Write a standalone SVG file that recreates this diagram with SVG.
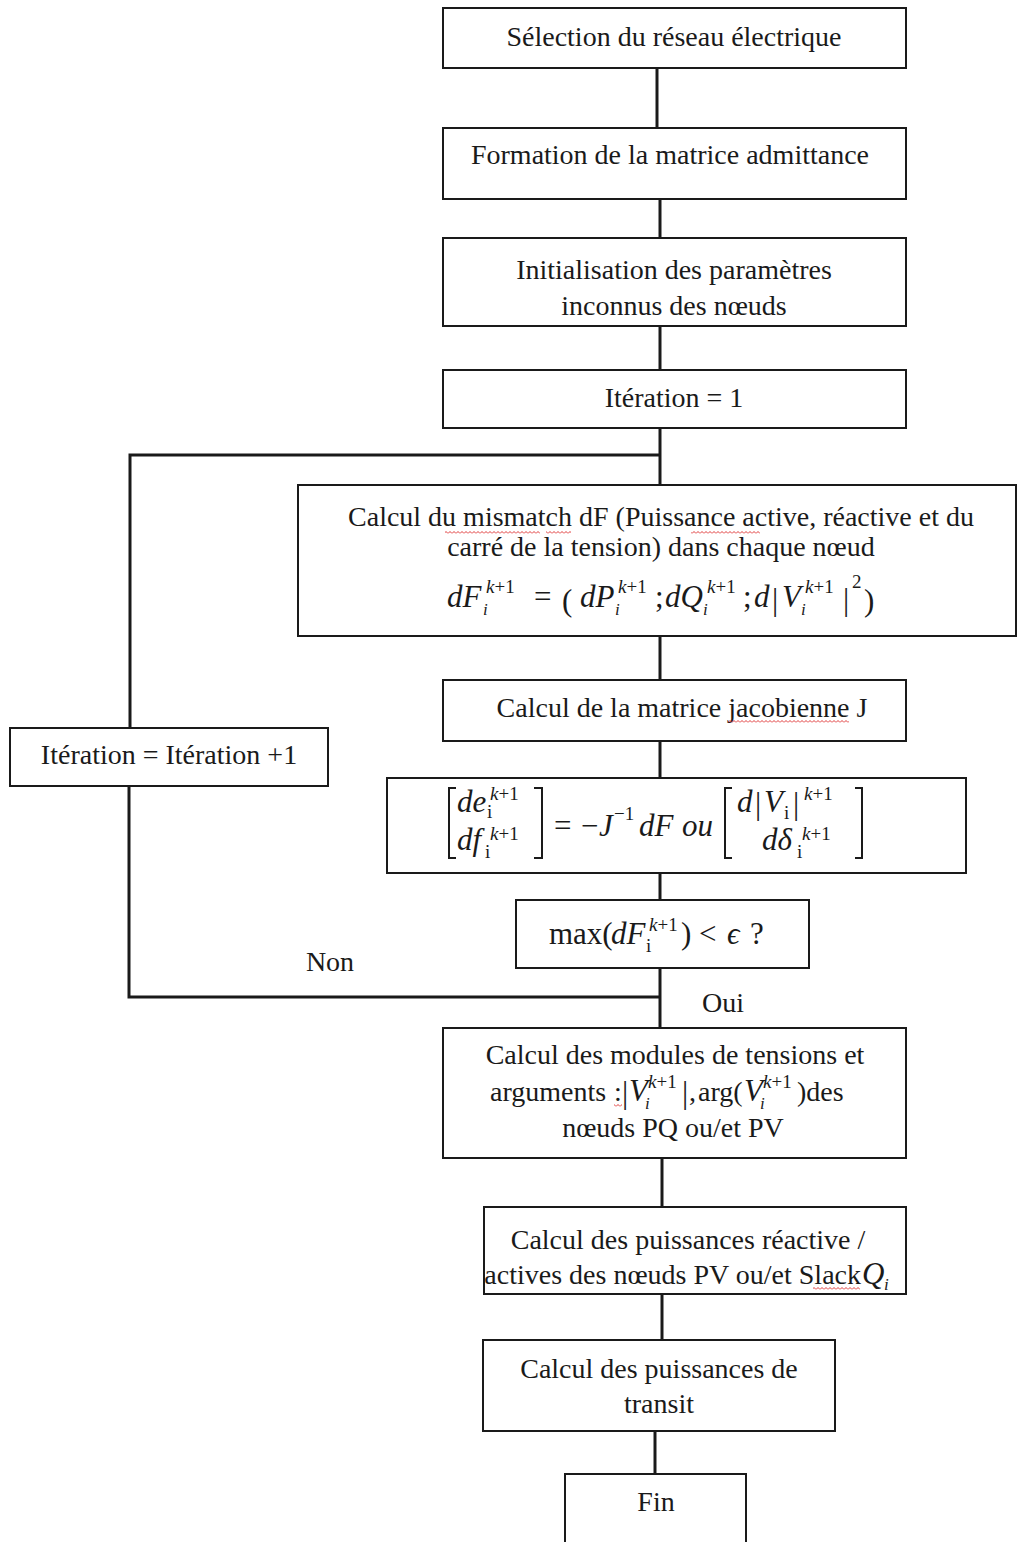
<svg xmlns="http://www.w3.org/2000/svg" width="1018" height="1542" viewBox="0 0 1018 1542">
<defs>
<style>
.box{fill:#fff;stroke:#1a1a1a;stroke-width:2}
.con{fill:none;stroke:#1a1a1a;stroke-width:3}
.t{font-family:"Liberation Serif","Times New Roman",serif;font-size:28px;fill:#1a1a1a}
.c{text-anchor:middle}
.m{font-family:"Liberation Serif","Times New Roman",serif;font-size:31px;font-style:italic;fill:#1a1a1a}
.u{font-family:"Liberation Serif","Times New Roman",serif;font-size:31px;fill:#1a1a1a}
.s{font-family:"Liberation Serif","Times New Roman",serif;font-size:19px;fill:#1a1a1a}
.si{font-family:"Liberation Serif","Times New Roman",serif;font-size:17px;font-style:italic;fill:#1a1a1a}
.br{fill:none;stroke:#1a1a1a;stroke-width:2}
</style>
<pattern id="wavy" x="0" y="0" width="4" height="3" patternUnits="userSpaceOnUse">
<path d="M0,2.5 L2,0.5 L4,2.5" fill="none" stroke="#d22" stroke-width="0.9"/>
</pattern>
</defs>
<rect width="1018" height="1542" fill="#fff"/>

<g id="connectors">
<path class="con" d="M657,68 V128"/>
<path class="con" d="M660,199 V238"/>
<path class="con" d="M660,326 V370"/>
<path class="con" d="M660,428 V485"/>
<path class="con" d="M660,455 H130 V728"/>
<path class="con" d="M129,786 V997 H660"/>
<path class="con" d="M660,636 V680"/>
<path class="con" d="M660,741 V778"/>
<path class="con" d="M660,873 V900"/>
<path class="con" d="M660,968 V1028"/>
<path class="con" d="M662,1158 V1207"/>
<path class="con" d="M662,1294 V1340"/>
<path class="con" d="M655,1431 V1474"/>
<text class="t c" x="330" y="971">Non</text>
<text class="t c" x="723" y="1012">Oui</text>
</g>

<g id="n1">
<rect class="box" x="443" y="8" width="463" height="60"/>
<text class="t c" x="674" y="46">Sélection du réseau  électrique</text>
</g>

<g id="n2">
<rect class="box" x="443" y="128" width="463" height="71"/>
<text class="t c" x="670" y="164">Formation de la matrice admittance</text>
</g>

<g id="n3">
<rect class="box" x="443" y="238" width="463" height="88"/>
<text class="t c" x="674" y="279">Initialisation des paramètres</text>
<text class="t c" x="674" y="315">inconnus des nœuds</text>
</g>

<g id="n4">
<rect class="box" x="443" y="370" width="463" height="58"/>
<text class="t c" x="674" y="407">Itération = 1</text>
</g>

<g id="n5">
<rect class="box" x="298" y="485" width="718" height="151"/>
<text class="t c" x="661" y="526">Calcul du mismatch dF (Puissance active, réactive et du</text>
<text class="t c" x="661" y="556">carré de la tension) dans chaque nœud</text>
<rect x="445" y="531" width="95" height="3" fill="url(#wavy)"/>
<rect x="546" y="531" width="25" height="3" fill="url(#wavy)"/>
<rect x="691" y="531" width="69" height="3" fill="url(#wavy)"/>
<text class="m" x="447" y="607">dF</text>
<text class="si" x="483" y="615">i</text>
<text class="s" x="486" y="593"><tspan font-style="italic">k</tspan>+1</text>
<text class="u" x="534" y="607">=</text>
<text class="u" x="562" y="611" font-size="42">(</text>
<text class="m" x="580" y="607">dP</text>
<text class="si" x="615" y="615">i</text>
<text class="s" x="618" y="593"><tspan font-style="italic">k</tspan>+1</text>
<text class="u" x="655" y="607">;</text>
<text class="m" x="665" y="607">dQ</text>
<text class="si" x="703" y="615">i</text>
<text class="s" x="707" y="593"><tspan font-style="italic">k</tspan>+1</text>
<text class="u" x="743" y="607">;</text>
<text class="m" x="754" y="607">d</text>
<text class="u" x="772" y="610" font-size="36">|</text>
<text class="m" x="782" y="607">V</text>
<text class="si" x="801" y="615">i</text>
<text class="s" x="805" y="593"><tspan font-style="italic">k</tspan>+1</text>
<text class="u" x="843" y="610" font-size="36">|</text>
<text class="s" x="852" y="588">2</text>
<text class="u" x="864" y="611" font-size="42">)</text>
</g>

<g id="n6">
<rect class="box" x="443" y="680" width="463" height="61"/>
<text class="t c" x="682" y="717">Calcul de la matrice jacobienne J</text>
<rect x="728" y="720" width="121" height="3" fill="url(#wavy)"/>
</g>

<g id="n7">
<rect class="box" x="387" y="778" width="579" height="95"/>
<path class="br" d="M456,788 H449 V858 H456"/>
<text class="m" x="457" y="812">de</text>
<text class="s" x="487" y="818">i</text>
<text class="s" x="490" y="800"><tspan font-style="italic">k</tspan>+1</text>
<text class="m" x="457" y="850">df</text>
<text class="s" x="485" y="858">i</text>
<text class="s" x="490" y="840"><tspan font-style="italic">k</tspan>+1</text>
<path class="br" d="M534,788 H542 V858 H534"/>
<text class="u" x="554" y="836">=</text>
<text class="u" x="581" y="836">−</text>
<text class="m" x="599" y="836">J</text>
<text class="s" x="614" y="820">−1</text>
<text class="m" x="639" y="836">dF</text>
<text class="m" x="682" y="836">ou</text>
<path class="br" d="M732,788 H725 V858 H732"/>
<text class="m" x="737" y="812">d</text>
<text class="u" x="755" y="814">|</text>
<text class="m" x="764" y="812">V</text>
<text class="s" x="784" y="819">i</text>
<text class="u" x="793" y="814">|</text>
<text class="s" x="804" y="800"><tspan font-style="italic">k</tspan>+1</text>
<text class="m" x="762" y="850">dδ</text>
<text class="s" x="797" y="858">i</text>
<text class="s" x="802" y="840"><tspan font-style="italic">k</tspan>+1</text>
<path class="br" d="M855,788 H862 V858 H855"/>
</g>

<g id="n8">
<rect class="box" x="516" y="900" width="293" height="68"/>
<text class="u" x="549" y="944" font-size="30">max(</text>
<text class="m" x="611" y="944">dF</text>
<text class="s" x="646" y="952">i</text>
<text class="s" x="649" y="931"><tspan font-style="italic">k</tspan>+1</text>
<text class="u" x="681" y="944" font-size="30">)</text>
<text class="u" x="699" y="944" font-size="30">&lt;</text>
<text class="m" x="727" y="944">ϵ</text>
<text class="u" x="750" y="944" font-size="28">?</text>
</g>

<g id="n9">
<rect class="box" x="443" y="1028" width="463" height="130"/>
<text class="t c" x="675" y="1064">Calcul des modules de tensions  et</text>
<text class="t" x="490" y="1101">arguments</text>
<text class="t" x="614" y="1101">:</text>
<rect x="614" y="1104" width="8" height="3" fill="url(#wavy)"/>
<text class="u" x="622" y="1103" font-size="32">|</text>
<text class="m" x="629" y="1101" font-size="29">V</text>
<text class="si" x="645" y="1109">i</text>
<text class="s" x="648" y="1088"><tspan font-style="italic">k</tspan>+1</text>
<text class="u" x="682" y="1103" font-size="32">|</text>
<text class="t" x="689" y="1101">,</text>
<text class="t" x="698" y="1101">arg(</text>
<text class="m" x="744" y="1101" font-size="29">V</text>
<text class="si" x="760" y="1109">i</text>
<text class="s" x="763" y="1088"><tspan font-style="italic">k</tspan>+1</text>
<text class="t" x="797" y="1101">)des</text>
<text class="t c" x="673" y="1137">nœuds PQ ou/et PV</text>
</g>

<g id="n10">
<rect class="box" x="484" y="1207" width="422" height="87"/>
<text class="t c" x="688" y="1249">Calcul des puissances  réactive /</text>
<text class="t" x="861" y="1284" text-anchor="end">actives des nœuds  PV ou/et Slack</text>
<text class="m" x="862" y="1284" font-size="28">Q</text>
<text class="si" x="884" y="1290">i</text>
<rect x="813" y="1287" width="47" height="3" fill="url(#wavy)"/>
</g>

<g id="n11">
<rect class="box" x="483" y="1340" width="352" height="91"/>
<text class="t c" x="659" y="1378">Calcul des puissances  de</text>
<text class="t c" x="659" y="1413">transit</text>
</g>

<g id="n12">
<rect class="box" x="565" y="1474" width="181" height="80"/>
<text class="t c" x="656" y="1511">Fin</text>
</g>

<g id="n13">
<rect class="box" x="10" y="728" width="318" height="58"/>
<text class="t c" x="169" y="764">Itération = Itération +1</text>
</g>
</svg>
